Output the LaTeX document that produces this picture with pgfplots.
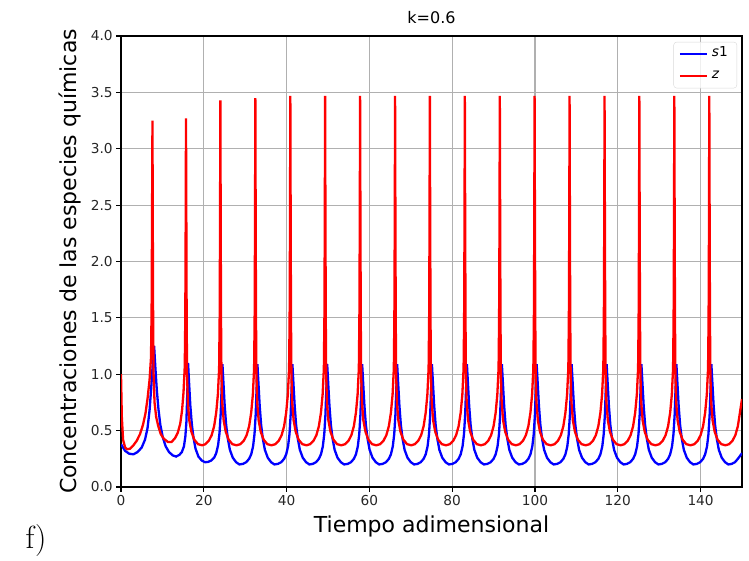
\documentclass[border=0pt]{standalone}
\usepackage{pgfplots}
\usepackage{pgfplotstable}
\pgfplotsset{compat=1.18}
\usepackage{fontspec}
\setmainfont{DejaVu Sans}
\newfontfamily\lmfont{Latin Modern Roman}

\pgfplotstableread[row sep=\\]{t v\\
0 1.0\\ 0.2 0.62\\ 0.5 0.42\\ 1.0 0.35\\ 1.5 0.335\\ 2.2 0.34\\ 3.0 0.37\\ 3.8 0.41\\ 4.6 0.47\\ 5.3 0.55\\ 5.9 0.65\\ 6.4 0.78\\ 6.9 0.95\\ 7.25 1.15\\ 7.4 1.6\\ 7.5 2.4\\ 7.6 3.25\\
7.68 2.3\\ 7.76 1.5\\ 7.87 1.0\\ 8.1 0.75\\ 8.5 0.62\\ 9.0 0.54\\ 9.6 0.47\\ 10.3 0.43\\ 11.3 0.40\\ 12.2 0.40\\ 13.0 0.43\\ 13.7 0.48\\ 14.3 0.56\\ 14.75 0.68\\ 15.1 0.84\\ 15.4 1.07\\ 15.53 1.5\\ 15.62 2.3\\ 15.7 3.27\\
15.78 2.4\\ 15.86 1.5\\ 15.96 1.0\\ 16.15 0.75\\ 16.5 0.59\\ 17.0 0.49\\ 17.7 0.42\\ 18.6 0.38\\ 19.6 0.37\\ 20.4 0.38\\ 21.2 0.41\\ 21.9 0.46\\ 22.5 0.54\\ 23.0 0.66\\ 23.4 0.82\\ 23.7 1.05\\ 23.83 1.5\\ 23.92 2.3\\ 24.0 3.43\\
24.08 2.4\\ 24.16 1.5\\ 24.26 1.0\\ 24.45 0.75\\ 24.8 0.59\\ 25.3 0.49\\ 26.0 0.42\\ 26.9 0.38\\ 27.9 0.37\\ 28.85 0.38\\ 29.65 0.41\\ 30.35 0.46\\ 30.95 0.54\\ 31.45 0.66\\ 31.85 0.82\\ 32.15 1.05\\ 32.28 1.5\\ 32.37 2.3\\ 32.45 3.45\\
32.53 2.4\\ 32.61 1.5\\ 32.71 1.0\\ 32.9 0.75\\ 33.25 0.59\\ 33.75 0.49\\ 34.45 0.42\\ 35.35 0.38\\ 36.35 0.37\\ 37.3 0.38\\ 38.1 0.41\\ 38.8 0.46\\ 39.4 0.54\\ 39.9 0.66\\ 40.3 0.82\\ 40.6 1.05\\ 40.73 1.5\\ 40.82 2.3\\ 40.9 3.47\\
40.98 2.4\\ 41.06 1.5\\ 41.16 1.0\\ 41.35 0.75\\ 41.7 0.59\\ 42.2 0.49\\ 42.9 0.42\\ 43.8 0.38\\ 44.8 0.37\\ 45.7 0.38\\ 46.5 0.41\\ 47.2 0.46\\ 47.8 0.54\\ 48.3 0.66\\ 48.7 0.82\\ 49.0 1.05\\ 49.13 1.5\\ 49.22 2.3\\ 49.3 3.47\\
49.38 2.4\\ 49.46 1.5\\ 49.56 1.0\\ 49.75 0.75\\ 50.1 0.59\\ 50.6 0.49\\ 51.3 0.42\\ 52.2 0.38\\ 53.2 0.37\\ 54.15 0.38\\ 54.95 0.41\\ 55.65 0.46\\ 56.25 0.54\\ 56.75 0.66\\ 57.15 0.82\\ 57.45 1.05\\ 57.58 1.5\\ 57.67 2.3\\ 57.75 3.47\\
57.83 2.4\\ 57.91 1.5\\ 58.01 1.0\\ 58.2 0.75\\ 58.55 0.59\\ 59.05 0.49\\ 59.75 0.42\\ 60.65 0.38\\ 61.65 0.37\\ 62.6 0.38\\ 63.4 0.41\\ 64.1 0.46\\ 64.7 0.54\\ 65.2 0.66\\ 65.6 0.82\\ 65.9 1.05\\ 66.03 1.5\\ 66.12 2.3\\ 66.2 3.47\\
66.28 2.4\\ 66.36 1.5\\ 66.46 1.0\\ 66.65 0.75\\ 67.0 0.59\\ 67.5 0.49\\ 68.2 0.42\\ 69.1 0.38\\ 70.1 0.37\\ 71.0 0.38\\ 71.8 0.41\\ 72.5 0.46\\ 73.1 0.54\\ 73.6 0.66\\ 74.0 0.82\\ 74.3 1.05\\ 74.43 1.5\\ 74.52 2.3\\ 74.6 3.47\\
74.68 2.4\\ 74.76 1.5\\ 74.86 1.0\\ 75.05 0.75\\ 75.4 0.59\\ 75.9 0.49\\ 76.6 0.42\\ 77.5 0.38\\ 78.5 0.37\\ 79.45 0.38\\ 80.25 0.41\\ 80.95 0.46\\ 81.55 0.54\\ 82.05 0.66\\ 82.45 0.82\\ 82.75 1.05\\ 82.88 1.5\\ 82.97 2.3\\ 83.05 3.47\\
83.13 2.4\\ 83.21 1.5\\ 83.31 1.0\\ 83.5 0.75\\ 83.85 0.59\\ 84.35 0.49\\ 85.05 0.42\\ 85.95 0.38\\ 86.95 0.37\\ 87.9 0.38\\ 88.7 0.41\\ 89.4 0.46\\ 90.0 0.54\\ 90.5 0.66\\ 90.9 0.82\\ 91.2 1.05\\ 91.33 1.5\\ 91.42 2.3\\ 91.5 3.47\\
91.58 2.4\\ 91.66 1.5\\ 91.76 1.0\\ 91.95 0.75\\ 92.3 0.59\\ 92.8 0.49\\ 93.5 0.42\\ 94.4 0.38\\ 95.4 0.37\\ 96.3 0.38\\ 97.1 0.41\\ 97.8 0.46\\ 98.4 0.54\\ 98.9 0.66\\ 99.3 0.82\\ 99.6 1.05\\ 99.73 1.5\\ 99.82 2.3\\ 99.9 3.47\\
99.98 2.4\\ 100.06 1.5\\ 100.16 1.0\\ 100.35 0.75\\ 100.7 0.59\\ 101.2 0.49\\ 101.9 0.42\\ 102.8 0.38\\ 103.8 0.37\\ 104.75 0.38\\ 105.55 0.41\\ 106.25 0.46\\ 106.85 0.54\\ 107.35 0.66\\ 107.75 0.82\\ 108.05 1.05\\ 108.18 1.5\\ 108.27 2.3\\ 108.35 3.47\\
108.43 2.4\\ 108.51 1.5\\ 108.61 1.0\\ 108.8 0.75\\ 109.15 0.59\\ 109.65 0.49\\ 110.35 0.42\\ 111.25 0.38\\ 112.25 0.37\\ 113.2 0.38\\ 114.0 0.41\\ 114.7 0.46\\ 115.3 0.54\\ 115.8 0.66\\ 116.2 0.82\\ 116.5 1.05\\ 116.63 1.5\\ 116.72 2.3\\ 116.8 3.47\\
116.88 2.4\\ 116.96 1.5\\ 117.06 1.0\\ 117.25 0.75\\ 117.6 0.59\\ 118.1 0.49\\ 118.8 0.42\\ 119.7 0.38\\ 120.7 0.37\\ 121.6 0.38\\ 122.4 0.41\\ 123.1 0.46\\ 123.7 0.54\\ 124.2 0.66\\ 124.6 0.82\\ 124.9 1.05\\ 125.03 1.5\\ 125.12 2.3\\ 125.2 3.47\\
125.28 2.4\\ 125.36 1.5\\ 125.46 1.0\\ 125.65 0.75\\ 126.0 0.59\\ 126.5 0.49\\ 127.2 0.42\\ 128.1 0.38\\ 129.1 0.37\\ 130.05 0.38\\ 130.85 0.41\\ 131.55 0.46\\ 132.15 0.54\\ 132.65 0.66\\ 133.05 0.82\\ 133.35 1.05\\ 133.48 1.5\\ 133.57 2.3\\ 133.65 3.47\\
133.73 2.4\\ 133.81 1.5\\ 133.91 1.0\\ 134.1 0.75\\ 134.45 0.59\\ 134.95 0.49\\ 135.65 0.42\\ 136.55 0.38\\ 137.55 0.37\\ 138.5 0.38\\ 139.3 0.41\\ 140.0 0.46\\ 140.6 0.54\\ 141.1 0.66\\ 141.5 0.82\\ 141.8 1.05\\ 141.93 1.5\\ 142.02 2.3\\ 142.1 3.47\\
142.18 2.4\\ 142.26 1.5\\ 142.36 1.0\\ 142.55 0.75\\ 142.9 0.59\\ 143.4 0.49\\ 144.1 0.42\\ 145.0 0.38\\ 146.0 0.37\\ 146.9 0.38\\ 147.7 0.41\\ 148.4 0.46\\ 149.0 0.54\\ 149.5 0.66\\ 150.0 0.78\\
}\zdata

\pgfplotstableread[row sep=\\]{t v\\
0 0.38\\ 0.5 0.35\\ 1.0 0.32\\ 2.0 0.295\\ 3.0 0.29\\ 4.0 0.31\\ 5.0 0.35\\ 5.8 0.42\\ 6.4 0.52\\ 6.9 0.68\\ 7.3 0.88\\ 7.65 1.08\\ 8.0 1.25\\
8.3 1.06\\ 8.65 0.86\\ 9.05 0.69\\ 9.5 0.55\\ 10.1 0.44\\ 10.8 0.36\\ 11.6 0.31\\ 12.5 0.28\\ 13.3 0.27\\ 14.1 0.285\\ 14.7 0.31\\ 15.2 0.36\\ 15.55 0.45\\ 15.8 0.58\\ 16.0 0.82\\ 16.2 1.10\\
16.45 0.92\\ 16.75 0.72\\ 17.1 0.56\\ 17.5 0.44\\ 18.0 0.34\\ 18.7 0.27\\ 19.5 0.235\\ 20.3 0.22\\ 21.0 0.222\\ 21.8 0.235\\ 22.5 0.26\\ 23.0 0.30\\ 23.45 0.37\\ 23.8 0.48\\ 24.08 0.65\\ 24.3 0.87\\ 24.5 1.09\\
24.75 0.92\\ 25.05 0.72\\ 25.4 0.55\\ 25.8 0.43\\ 26.3 0.33\\ 27.0 0.26\\ 27.8 0.22\\ 28.6 0.20\\ 29.45 0.205\\ 30.25 0.22\\ 30.95 0.25\\ 31.45 0.29\\ 31.9 0.36\\ 32.25 0.47\\ 32.53 0.64\\ 32.75 0.87\\ 32.95 1.09\\
33.2 0.92\\ 33.5 0.72\\ 33.85 0.55\\ 34.25 0.43\\ 34.75 0.33\\ 35.45 0.26\\ 36.25 0.22\\ 37.05 0.20\\ 37.9 0.205\\ 38.7 0.22\\ 39.4 0.25\\ 39.9 0.29\\ 40.35 0.36\\ 40.7 0.47\\ 40.98 0.64\\ 41.2 0.87\\ 41.4 1.09\\
41.65 0.92\\ 41.95 0.72\\ 42.3 0.55\\ 42.7 0.43\\ 43.2 0.33\\ 43.9 0.26\\ 44.7 0.22\\ 45.5 0.20\\ 46.3 0.205\\ 47.1 0.22\\ 47.8 0.25\\ 48.3 0.29\\ 48.75 0.36\\ 49.1 0.47\\ 49.38 0.64\\ 49.6 0.87\\ 49.8 1.09\\
50.05 0.92\\ 50.35 0.72\\ 50.7 0.55\\ 51.1 0.43\\ 51.6 0.33\\ 52.3 0.26\\ 53.1 0.22\\ 53.9 0.20\\ 54.75 0.205\\ 55.55 0.22\\ 56.25 0.25\\ 56.75 0.29\\ 57.2 0.36\\ 57.55 0.47\\ 57.83 0.64\\ 58.05 0.87\\ 58.25 1.09\\
58.5 0.92\\ 58.8 0.72\\ 59.15 0.55\\ 59.55 0.43\\ 60.05 0.33\\ 60.75 0.26\\ 61.55 0.22\\ 62.35 0.20\\ 63.2 0.205\\ 64.0 0.22\\ 64.7 0.25\\ 65.2 0.29\\ 65.65 0.36\\ 66.0 0.47\\ 66.28 0.64\\ 66.5 0.87\\ 66.7 1.09\\
66.95 0.92\\ 67.25 0.72\\ 67.6 0.55\\ 68.0 0.43\\ 68.5 0.33\\ 69.2 0.26\\ 70.0 0.22\\ 70.8 0.20\\ 71.6 0.205\\ 72.4 0.22\\ 73.1 0.25\\ 73.6 0.29\\ 74.05 0.36\\ 74.4 0.47\\ 74.68 0.64\\ 74.9 0.87\\ 75.1 1.09\\
75.35 0.92\\ 75.65 0.72\\ 76.0 0.55\\ 76.4 0.43\\ 76.9 0.33\\ 77.6 0.26\\ 78.4 0.22\\ 79.2 0.20\\ 80.05 0.205\\ 80.85 0.22\\ 81.55 0.25\\ 82.05 0.29\\ 82.5 0.36\\ 82.85 0.47\\ 83.13 0.64\\ 83.35 0.87\\ 83.55 1.09\\
83.8 0.92\\ 84.1 0.72\\ 84.45 0.55\\ 84.85 0.43\\ 85.35 0.33\\ 86.05 0.26\\ 86.85 0.22\\ 87.65 0.20\\ 88.5 0.205\\ 89.3 0.22\\ 90.0 0.25\\ 90.5 0.29\\ 90.95 0.36\\ 91.3 0.47\\ 91.58 0.64\\ 91.8 0.87\\ 92.0 1.09\\
92.25 0.92\\ 92.55 0.72\\ 92.9 0.55\\ 93.3 0.43\\ 93.8 0.33\\ 94.5 0.26\\ 95.3 0.22\\ 96.1 0.20\\ 96.9 0.205\\ 97.7 0.22\\ 98.4 0.25\\ 98.9 0.29\\ 99.35 0.36\\ 99.7 0.47\\ 99.98 0.64\\ 100.2 0.87\\ 100.4 1.09\\
100.65 0.92\\ 100.95 0.72\\ 101.3 0.55\\ 101.7 0.43\\ 102.2 0.33\\ 102.9 0.26\\ 103.7 0.22\\ 104.5 0.20\\ 105.35 0.205\\ 106.15 0.22\\ 106.85 0.25\\ 107.35 0.29\\ 107.8 0.36\\ 108.15 0.47\\ 108.43 0.64\\ 108.65 0.87\\ 108.85 1.09\\
109.1 0.92\\ 109.4 0.72\\ 109.75 0.55\\ 110.15 0.43\\ 110.65 0.33\\ 111.35 0.26\\ 112.15 0.22\\ 112.95 0.20\\ 113.8 0.205\\ 114.6 0.22\\ 115.3 0.25\\ 115.8 0.29\\ 116.25 0.36\\ 116.6 0.47\\ 116.88 0.64\\ 117.1 0.87\\ 117.3 1.09\\
117.55 0.92\\ 117.85 0.72\\ 118.2 0.55\\ 118.6 0.43\\ 119.1 0.33\\ 119.8 0.26\\ 120.6 0.22\\ 121.4 0.20\\ 122.2 0.205\\ 123.0 0.22\\ 123.7 0.25\\ 124.2 0.29\\ 124.65 0.36\\ 125.0 0.47\\ 125.28 0.64\\ 125.5 0.87\\ 125.7 1.09\\
125.95 0.92\\ 126.25 0.72\\ 126.6 0.55\\ 127.0 0.43\\ 127.5 0.33\\ 128.2 0.26\\ 129.0 0.22\\ 129.8 0.20\\ 130.65 0.205\\ 131.45 0.22\\ 132.15 0.25\\ 132.65 0.29\\ 133.1 0.36\\ 133.45 0.47\\ 133.73 0.64\\ 133.95 0.87\\ 134.15 1.09\\
134.4 0.92\\ 134.7 0.72\\ 135.05 0.55\\ 135.45 0.43\\ 135.95 0.33\\ 136.65 0.26\\ 137.45 0.22\\ 138.25 0.20\\ 139.1 0.205\\ 139.9 0.22\\ 140.6 0.25\\ 141.1 0.29\\ 141.55 0.36\\ 141.9 0.47\\ 142.18 0.64\\ 142.4 0.87\\ 142.6 1.09\\
142.85 0.92\\ 143.15 0.72\\ 143.5 0.55\\ 143.9 0.43\\ 144.4 0.33\\ 145.1 0.26\\ 145.9 0.22\\ 146.7 0.20\\ 147.5 0.205\\ 148.3 0.22\\ 149.0 0.25\\ 150.0 0.30\\
}\sdata

\begin{document}
\begin{tikzpicture}
\path[use as bounding box] (0,0) rectangle (749pt,560pt);
\begin{axis}[
  at={(121pt,73pt)}, anchor=south west,
  scale only axis, width=621pt, height=451pt,
  xmin=0, xmax=150, ymin=0, ymax=4,
  xtick={0,20,40,60,80,100,120,140},
  ytick={0,0.5,1,1.5,2,2.5,3,3.5,4},
  xtick pos=bottom, ytick pos=left,
  grid=major,
  major grid style={line width=1.1pt, color=black!31},
  axis line style={line width=1.1pt, black},
  tick style={line width=1.1pt, black},
  tick align=outside, major tick length=4.8pt,
  /pgf/number format/assume math mode=true,
  tick label style={font=\fontsize{13.7}{16}\selectfont, color=black!85},
  yticklabel style={/pgf/number format/.cd, fixed, fixed zerofill, precision=1},
  xticklabel style={/pgf/number format/.cd, fixed, precision=0},
  title={k=0.6},
  title style={at={(axis description cs:0.5,1.0155)}, anchor=base, font=\fontsize{16}{19}\selectfont},
  xlabel={Tiempo adimensional},
  xlabel style={at={(axis description cs:0.5,-0.0998)}, anchor=base, font=\fontsize{22}{26}\selectfont},
  ylabel={Concentraciones de las especies químicas},
  ylabel style={at={(axis description cs:-0.0717,0.5)}, rotate=0, anchor=base, font=\fontsize{22}{26}\selectfont},
  legend style={at={(0.992,0.987)}, anchor=north east, draw=black!15, rounded corners=3pt,
    fill=white, fill opacity=0.8, text opacity=1,
    font=\fontsize{13.7}{16}\selectfont, inner xsep=5pt, inner ysep=4pt,
    nodes={inner xsep=4pt, inner ysep=3pt, text height=0.75em, text depth=0.25em},
    row sep=6pt},
  legend cell align=left,
  legend image code/.code={\draw[#1] (0pt,0pt) -- (27pt,0pt);},
]
\addplot[blue, line width=2.3pt] table[x=t, y=v] {\sdata};
\addlegendentry{\textit{s}1\hspace{8pt}}
\addplot[red, line width=2.3pt] table[x=t, y=v] {\zdata};
\addlegendentry{\textit{z}}
\end{axis}
\node[anchor=base west, font=\lmfont\fontsize{32}{36}\selectfont] at (22pt,12pt) {f)};
\end{tikzpicture}
\end{document}
